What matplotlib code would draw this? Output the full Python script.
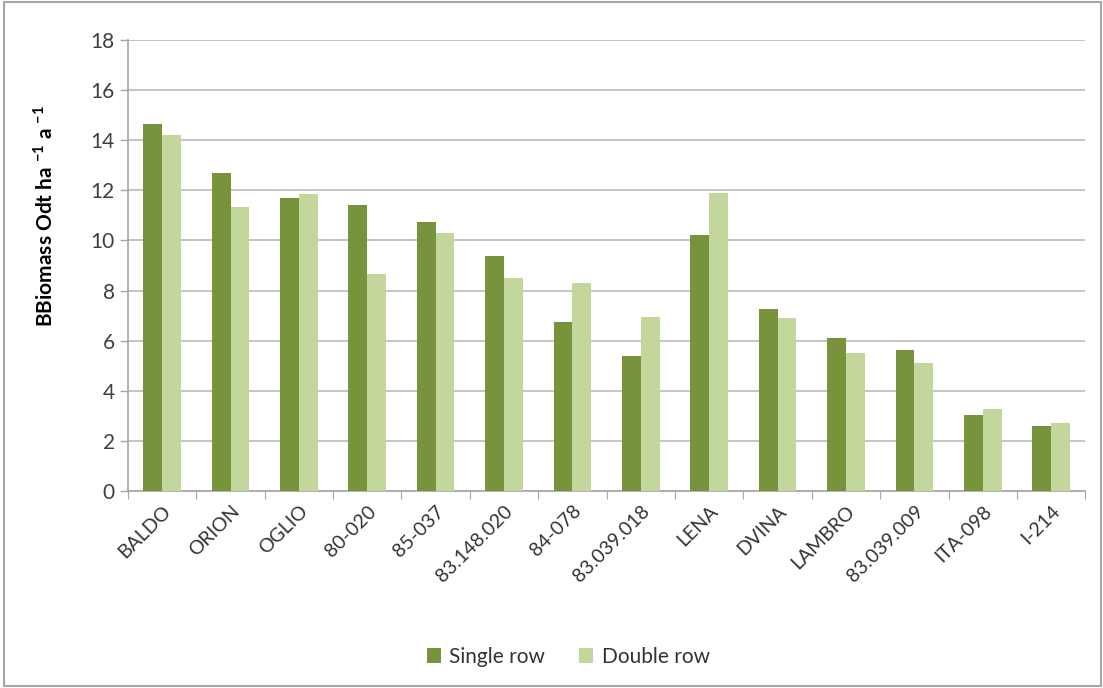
import numpy as np
import matplotlib.pyplot as plt
from matplotlib.patches import Rectangle

plt.rcParams['font.family'] = ['Lato', 'DejaVu Sans']
plt.rcParams['mathtext.fontset'] = 'custom'
plt.rcParams['mathtext.rm'] = 'Lato'
plt.rcParams['mathtext.bf'] = 'Lato:bold'

clones = ['BALDO', 'ORION', 'OGLIO', '80-020', '85-037', '83.148.020', '84-078',
          '83.039.018', 'LENA', 'DVINA', 'LAMBRO', '83.039.009', 'ITA-098', 'I-214']
single_row = [14.65, 12.7, 11.7, 11.4, 10.75, 9.4, 6.75, 5.4, 10.2, 7.25, 6.13, 5.65, 3.06, 2.62]
double_row = [14.2, 11.35, 11.85, 8.65, 10.3, 8.5, 8.3, 6.96, 11.88, 6.92, 5.52, 5.12, 3.26, 2.73]

fig = plt.figure(figsize=(11.03, 6.88), dpi=100)
ax = fig.add_axes([0.116, 0.286, 0.868, 0.656])

x = np.arange(len(clones))
w = 0.275
ax.bar(x - w / 2, single_row, w, color='#77933C', label='Single row', zorder=3)
ax.bar(x + w / 2, double_row, w, color='#C3D69B', label='Double row', zorder=3)

ax.set_xlim(-0.5, len(clones) - 0.5)
ax.set_ylim(0, 18)
ax.set_yticks(np.arange(0, 19, 2))
ax.yaxis.grid(True, color='#BFBFBF', linewidth=1.3, zorder=0)
ax.tick_params(axis='y', labelsize=15, colors='#404040', length=6, width=1, color='#A6A6A6')

ax.set_xticks(np.arange(-0.5, len(clones), 1))
ax.set_xticklabels([])
ax.set_xticks(x, minor=True)
ax.set_xticklabels(clones, minor=True, rotation=45, ha='right', rotation_mode='anchor',
                   fontsize=14, color='#333333')
ax.tick_params(axis='x', which='major', length=6, color='#A6A6A6')
ax.tick_params(axis='x', which='minor', length=0, pad=8)

for s in ['top', 'right']:
    ax.spines[s].set_visible(False)
for s in ['left', 'bottom']:
    ax.spines[s].set_color('#A6A6A6')
    ax.spines[s].set_linewidth(1.2)

ax.set_ylabel(r'BBiomass Odt ha $^{\mathbf{-1}}$ a $^{\mathbf{-1}}$', fontsize=15,
              fontweight='bold')
ax.yaxis.set_label_coords(-0.075, 0.61)

fig.legend(loc='center', bbox_to_anchor=(0.515, 0.045), ncol=2, frameon=False,
           fontsize=15, handlelength=0.7, handleheight=0.7, columnspacing=1.6,
           handletextpad=0.4, labelcolor='#333333')

fig.add_artist(Rectangle((0.004, 0.003), 0.994, 0.994, transform=fig.transFigure,
                         fill=False, edgecolor='#A6A6A6', linewidth=1.5))

fig.savefig('out.png', dpi=100)
